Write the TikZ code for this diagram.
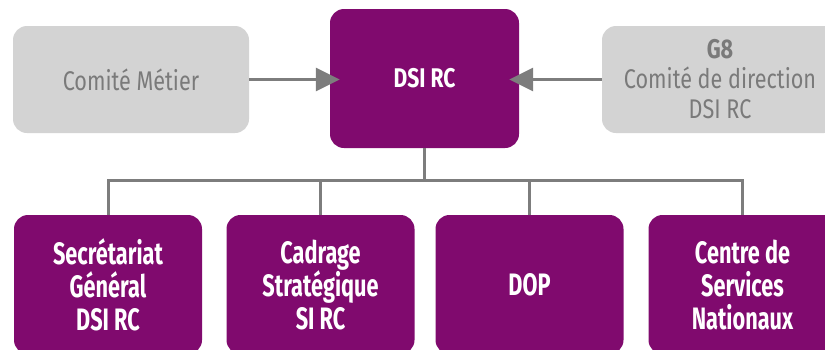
\documentclass[tikz,border=0pt]{standalone}
\usepackage{fontspec}
\setmainfont{Fira Sans}
\newfontfamily\grayf[FakeStretch=0.8]{Fira Sans}
\newfontfamily\boldf[FakeStretch=0.70]{Fira Sans}
\newfontfamily\boldtop[FakeStretch=0.78]{Fira Sans}
\usetikzlibrary{arrows.meta}
\definecolor{purp}{RGB}{128,10,110}
\definecolor{boxgray}{RGB}{211,211,211}
\definecolor{txtgray}{RGB}{122,122,122}
\definecolor{linegray}{RGB}{125,125,125}
\begin{document}
\begin{tikzpicture}[x=1pt,y=-1pt,
  pbox/.style={fill=purp, rounded corners=14pt, text=white, align=center, inner sep=0pt,
    font=\boldf\bfseries\fontsize{31}{33}\selectfont},
  bbox/.style={pbox, minimum width=188pt, minimum height=139pt},
  gbox/.style={fill=boxgray, rounded corners=14pt, text=txtgray, align=center, inner sep=0pt,
    minimum width=236pt, minimum height=107pt, font=\grayf\fontsize{27}{30}\selectfont},
  conn/.style={draw=linegray, line width=3pt},
  arr/.style={conn, -{Triangle[length=24pt,width=23pt]}, shorten >=-10pt}]
\useasboundingbox (0,0) rectangle (825,349);
\clip (0,0) rectangle (825,349);
\node[gbox] (cm) at (131,79.5) {Comité Métier};
\node[pbox, minimum width=189pt, minimum height=139pt, font=\boldtop\bfseries\fontsize{27}{30}\selectfont] (dsi) at (424.5,78.5) {DSI RC};
\node[gbox] (g8) at (720,79.5) {{\bfseries G8}\\Comité de direction\\DSI RC};
\node[bbox] (b1) at (108,284.5) {Secrétariat\\Général\\DSI RC};
\node[bbox] (b2) at (320.5,284.5) {Cadrage\\Stratégique\\SI RC};
\node[bbox] (b3) at (529.5,284.5) {DOP};
\node[bbox] (b4) at (742.5,284.5) {Centre de\\Services\\Nationaux};
\draw[arr] (cm.east) -- (dsi.west |- cm.east);
\draw[arr] (g8.west) -- (dsi.east |- g8.west);
\path (dsi.south) ++(0,32) coordinate (bus);
\draw[conn] (dsi.south) -- (bus);
\draw[conn] (b1.north) |- (bus) -| (b4.north);
\draw[conn] (b2.north) -- (b2.north |- bus);
\draw[conn] (b3.north) -- (b3.north |- bus);
\end{tikzpicture}
\end{document}
